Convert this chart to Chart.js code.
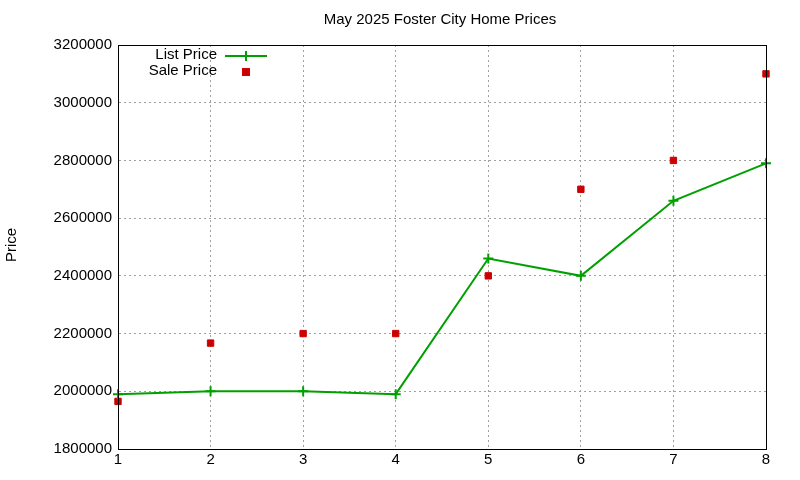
<!DOCTYPE html>
<html><head><script src="https://cdn.jsdelivr.net/npm/chart.js@4"></script>
<style>body{margin:0}#w{width:800px;height:480px}</style></head>
<body><div id="w"><canvas id="c"></canvas></div>
<script>
const weeks=[1,2,3,4,5,6,7,8];
const listPrice=[1990000,2000000,2000000,1990000,2460000,2400000,2660000,2790000];
const salePrice=[1965000,2167000,2200000,2200000,2400000,2700000,2800000,3100000];
const FONT='"Liberation Sans", Arial, sans-serif';
const deco={id:'deco',afterDraw(ch){const c=ch.ctx,a=ch.chartArea;c.save();
c.strokeStyle='#000';c.lineWidth=1;c.setLineDash([]);c.strokeRect(a.left+.5,a.top+.5,a.right-a.left,a.bottom-a.top);
c.fillStyle='#000';c.font='15px '+FONT;c.textAlign='center';c.textBaseline='middle';
c.fillText('May 2025 Foster City Home Prices',440,20);
c.save();c.translate(12,245);c.rotate(-Math.PI/2);c.fillText('Price',0,0);c.restore();
c.textAlign='right';c.fillText('List Price',217,55);c.fillText('Sale Price',217,71);
c.strokeStyle='#00a000';c.lineWidth=2;c.beginPath();c.moveTo(225,56);c.lineTo(267,56);c.moveTo(246,51);c.lineTo(246,61);c.stroke();
c.fillStyle='#cc0000';c.fillRect(242,68,8,8);c.restore();}};
new Chart(document.getElementById('c'),{type:'line',
data:{datasets:[
{data:weeks.map((x,i)=>({x,y:listPrice[i]})),borderColor:'#00a000',backgroundColor:'#00a000',borderWidth:2,pointStyle:'cross',pointRadius:5,pointBorderWidth:2,tension:0,clip:false},
{data:weeks.map((x,i)=>({x,y:salePrice[i]})),showLine:false,borderColor:'#cc0000',backgroundColor:'#cc0000',pointStyle:'rect',pointRadius:4.5,clip:false}]},
options:{responsive:true,maintainAspectRatio:false,animation:false,
layout:{padding:{top:45,right:34,left:0,bottom:0}},
plugins:{legend:{display:false},tooltip:{enabled:false}},
scales:{
x:{type:'linear',min:1,max:8,ticks:{stepSize:1,color:'#000',font:{family:FONT,size:15},padding:2},
grid:{color:'#a0a0a0',drawTicks:false},border:{color:'#000',dash:[2,3]},afterFit(s){s.height=31;}},
y:{min:1800000,max:3200000,ticks:{stepSize:200000,color:'#000',font:{family:FONT,size:15},padding:6,callback:v=>String(v)},
grid:{color:'#a0a0a0',drawTicks:false},border:{color:'#000',dash:[2,3]},afterFit(s){s.width=118;}}}},
plugins:[deco]});
</script></body></html>
